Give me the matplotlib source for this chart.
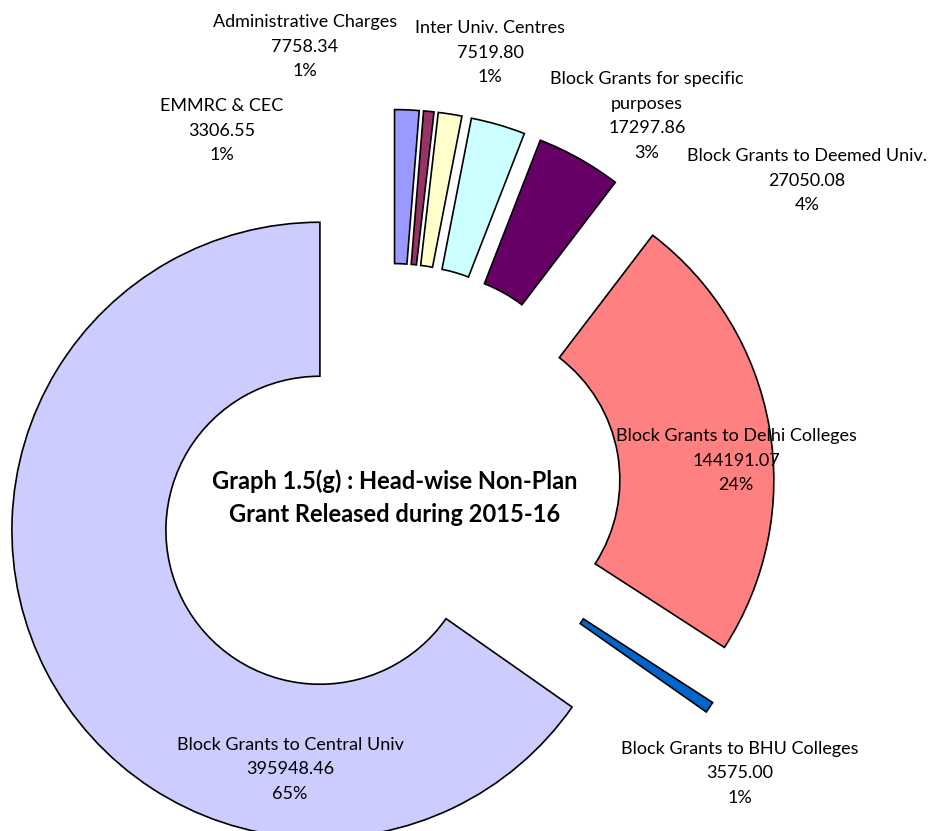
import numpy as np
import matplotlib
matplotlib.use("Agg")
import matplotlib.pyplot as plt

plt.rcParams['font.family'] = ['Lato', 'DejaVu Sans']

heads = ['Administrative Charges', 'EMMRC & CEC', 'Inter Univ. Centres',
         'Block Grants for specific\npurposes', 'Block Grants to Deemed Univ.',
         'Block Grants to Delhi Colleges', 'Block Grants to BHU Colleges',
         'Block Grants to Central Univ']
amounts = [7758.34, 3306.55, 7519.80, 17297.86, 27050.08, 144191.07, 3575.00, 395948.46]
colors = ['#9999FF', '#993366', '#FFFFCC', '#CCFFFF', '#660066', '#FF8080', '#0066CC', '#CCCCFF']

# label centres in pixels (x, y of first line)
label_pos = [(305, 22), (222, 106), (490, 28), (647, 79), (807, 156),
             (736, 436), (740, 749), (290, 745)]

W, H = 932, 831
cx, cy, R = 391.5, 493, 308

fig = plt.figure(figsize=(W / 100, H / 100), dpi=100)
ax = fig.add_axes([0, 0, 1, 1])

explode = [0.245] * (len(amounts) - 1) + [0.262]
ax.pie(amounts, colors=colors, startangle=90, counterclock=False,
       explode=explode, radius=1,
       wedgeprops=dict(width=0.5, edgecolor='black', linewidth=1.2))
ax.set_xlim(-cx / R, (W - cx) / R)
ax.set_ylim((cy - H) / R, cy / R)
ax.set_aspect('equal')
ax.axis('off')

total = sum(amounts)
for name, val, (px, py) in zip(heads, amounts, label_pos):
    lines = name.split('\n') + [f"{val:.2f}", f"{round(val / total * 100):.0f}%"]
    for i, line in enumerate(lines):
        fig.text(px / W, 1 - (py + i * 24.5) / H, line, ha='center', va='center',
                 fontsize=13, color='black')

fig.text(395 / W, 1 - 481 / H, "Graph 1.5(g) : Head-wise Non-Plan",
         ha='center', va='center', fontsize=17, fontweight='bold')
fig.text(395 / W, 1 - 514 / H, "Grant Released during 2015-16",
         ha='center', va='center', fontsize=17, fontweight='bold')

fig.savefig('out.png', dpi=100, facecolor='white')
